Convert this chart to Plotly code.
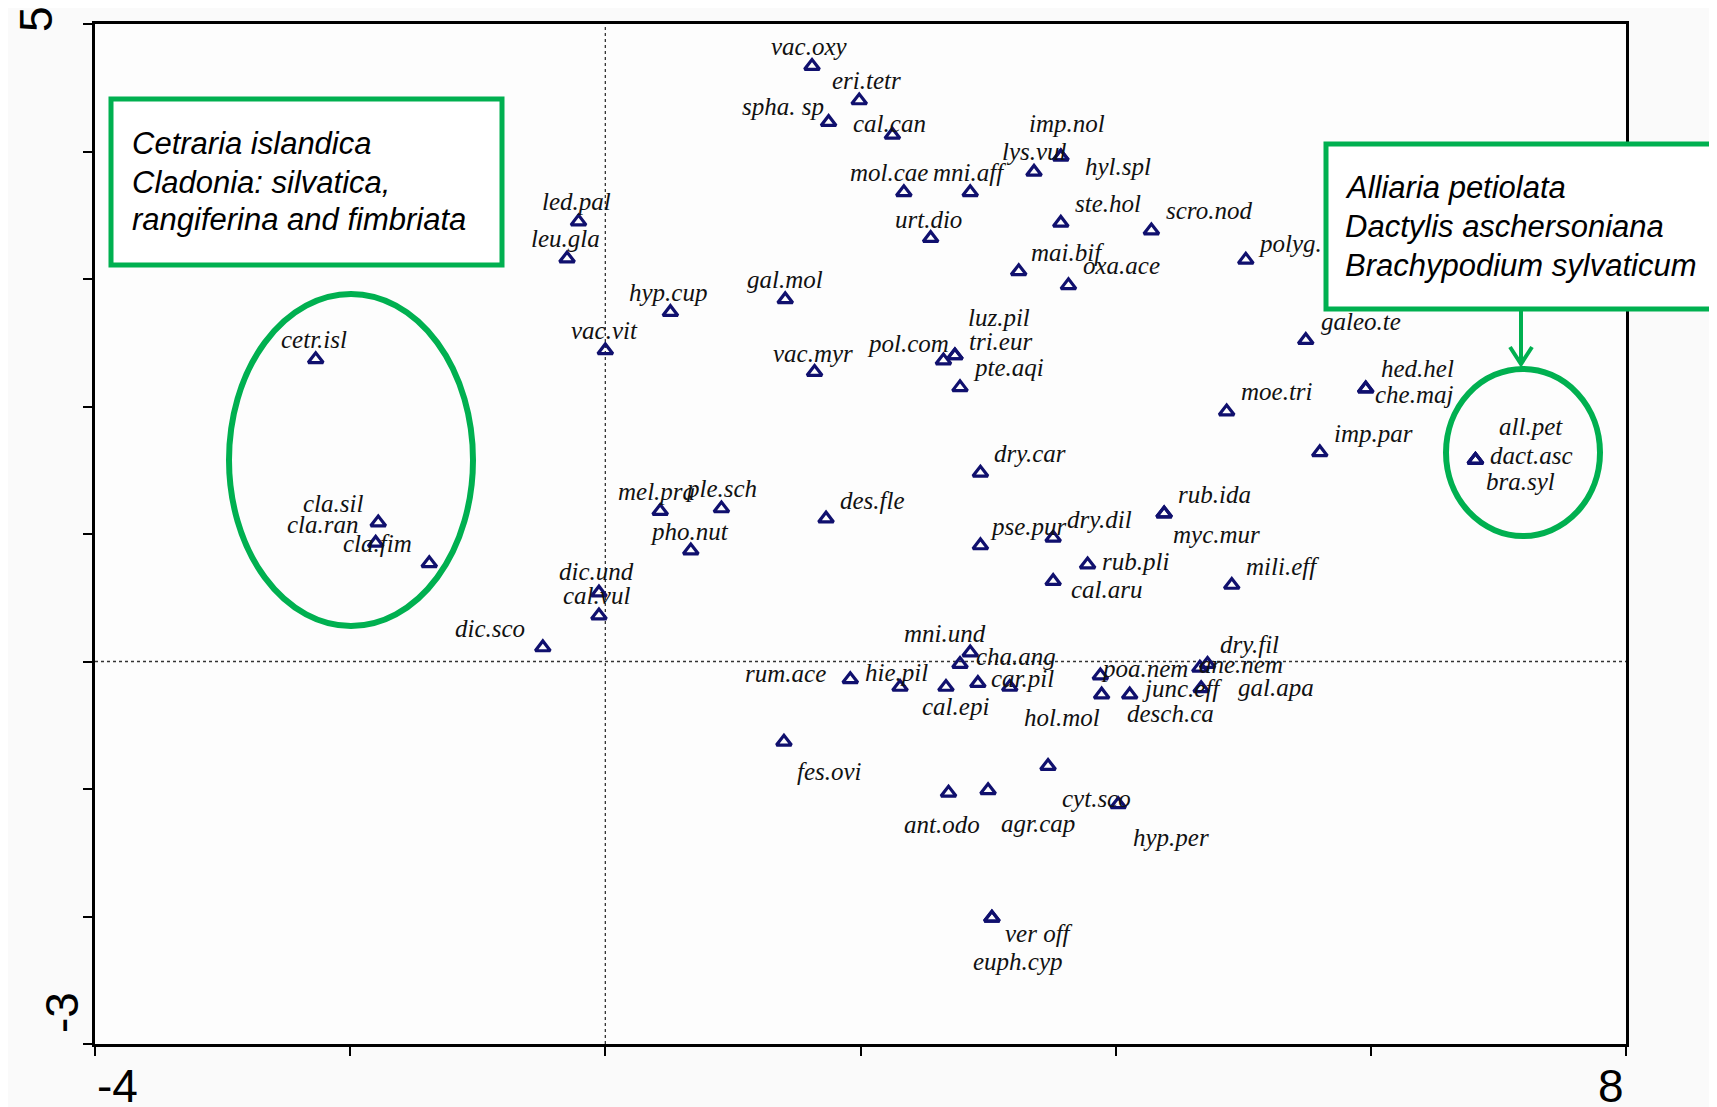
import plotly.graph_objects as go

# ---------------- data (species scores) ----------------
species = [
    "vac.oxy", "eri.tetr", "spha. sp", "cal.can", "imp.nol", "lys.vul", "hyl.spl",
    "mol.cae", "mni.aff", "ste.hol", "scro.nod", "urt.dio", "polyg.", "mai.bif",
    "oxa.ace", "led.pal", "leu.gla", "hyp.cup", "gal.mol", "vac.vit", "cetr.isl",
    "vac.myr", "pol.com", "tri.eur", "luz.pil", "pte.aqi", "galeo.te", "hed.hel",
    "che.maj", "moe.tri", "imp.par", "all.pet", "dact.asc", "bra.syl", "dry.car",
    "mel.pra", "ple.sch", "des.fle", "pho.nut", "rub.ida", "myc.mur", "pse.pur",
    "dry.dil", "rub.pli", "cal.aru", "mili.eff", "cla.sil", "cla.ran", "cla.fim",
    "dic.und", "cal.vul", "dic.sco", "mni.und", "cha.ang", "rum.ace", "hie.pil",
    "cal.epi", "car.pil", "hol.mol", "poa.nem", "desch.ca", "junc.eff", "ane.nem",
    "dry.fil", "gal.apa", "fes.ovi", "ant.odo", "agr.cap", "cyt.sco", "hyp.per",
    "ver off", "euph.cyp",
]
axis1 = [
    1.62, 1.99, 1.75, 2.25, 3.57, 3.36, 3.57,
    2.34, 2.86, 3.57, 4.28, 2.55, 5.02, 3.24,
    3.63, -0.21, -0.30, 0.51, 1.41, 0.00, -2.27,
    1.64, 2.65, 2.74, 2.74, 2.78, 5.49, 5.96,
    5.96, 4.87, 5.60, 6.82, 6.82, 6.82, 2.94,
    0.43, 0.91, 1.73, 0.67, 4.38, 4.38, 2.94,
    3.51, 3.78, 3.51, 4.91, -1.78, -1.80, -1.38,
    -0.05, -0.05, -0.49, 2.86, 2.78, 1.92, 2.31,
    2.67, 2.92, 3.17, 3.88, 3.89, 4.11, 4.66,
    4.72, 4.67, 1.40, 2.69, 3.00, 3.47, 4.02,
    3.03, 3.03,
]
axis2 = [
    4.67, 4.40, 4.23, 4.13, 3.96, 3.84, 3.96,
    3.68, 3.68, 3.44, 3.38, 3.32, 3.15, 3.06,
    2.95, 3.45, 3.16, 2.74, 2.84, 2.44, 2.37,
    2.27, 2.36, 2.40, 2.40, 2.15, 2.52, 2.14,
    2.14, 1.96, 1.64, 1.58, 1.58, 1.58, 1.48,
    1.18, 1.20, 1.12, 0.87, 1.16, 1.16, 0.91,
    0.97, 0.76, 0.63, 0.60, 1.09, 0.93, 0.77,
    0.54, 0.36, 0.11, 0.07, -0.02, -0.14, -0.20,
    -0.20, -0.17, -0.20, -0.11, -0.26, -0.26, -0.05,
    -0.02, -0.21, -0.63, -1.03, -1.01, -0.82, -1.12,
    -2.01, -2.01,
]

x_ticks = [-4, -2, 0, 2, 4, 6, 8]
y_ticks = [-3, -2, -1, 0, 1, 2, 3, 4, 5]
x_tick_text = {-4: "-4", 8: "8"}
y_tick_text = {5: "5", -3: "-3"}

left_box_lines = ["Cetraria islandica", "Cladonia: silvatica,", "rangiferina and fimbriata"]
right_box_lines = ["Alliaria petiolata", "Dactylis aschersoniana", "Brachypodium sylvaticum"]

# ---------------- label placement (pixel offsets from each point) ----------------
S = 1717 / 1568
label_dx = [
    -2, 7, -42, -3, 6, 0, 52,
    -14, -1, 43, 53, -2, 40, 45,
    48, -2, -1, -2, 0, -1, -2,
    -1, -32, 42, 40, 44, 50, 47,
    44, 46, 49, 51, 51, 41, 45,
    -3, 0, 42, -1, 46, 48, 44,
    42, 44, 49, 46, -41, -48, -47,
    -2, -2, -48, -23, 51, -59, -3,
    9, 41, 48, 40, 63, 48, 38,
    38, 68, 42, -6, 46, 44, 48,
    43, 24,
]
label_dy = [
    -18, -18, -14, -10, -30, -19, 9,
    -18, -18, -18, -18, -17, -15, -17,
    -18, -18, -18, -18, -18, -18, -18,
    -17, -16, -13, -35, -18, -17, -18,
    5, -18, -17, -31, -4, 20, -18,
    -18, -18, -17, -17, -17, 19, -17,
    -17, -3, 8, -17, -17, -17, -18,
    -19, -18, -17, -17, -7, -5, -13,
    18, -4, 28, -6, 17, -6, -3,
    -18, -1, 27, 29, 30, 30, 30,
    14, 40,
]

# ---------------- layout geometry ----------------
W_FIG, H_FIG = 1717, 1107
BODY = 8  # default page margin around the plot div
ML, MT = 87, 16
PW, PH = 1531, 1020
MR = W_FIG - ML - PW
MB = H_FIG - MT - PH


def px(x):
    """page pixel x -> paper fraction"""
    return (x - BODY - ML) / PW


def py(y):
    """page pixel y -> paper fraction"""
    return 1 - (y - BODY - MT) / PH


GREEN = "#00b050"
NAVY = "#10106e"

fig = go.Figure()
fig.add_trace(go.Scatter(
    x=axis1, y=axis2, mode="markers",
    marker=dict(symbol="triangle-up-open", size=13, color=NAVY,
                line=dict(width=3.2, color=NAVY)),
    hoverinfo="skip", showlegend=False, cliponaxis=False,
))

annotations = []
for name, xv, yv, dx, dy in zip(species, axis1, axis2, label_dx, label_dy):
    annotations.append(dict(
        x=xv, y=yv, xref="x", yref="y", text=name, showarrow=False,
        xanchor="center", yanchor="middle",
        xshift=dx * S, yshift=-dy * S,
        font=dict(family="Liberation Serif", size=25, color="#111111", style="italic"),
    ))

# tick numbers
tick_font = dict(family="Liberation Sans", size=46, color="#000000")
for v, t in x_tick_text.items():
    annotations.append(dict(
        x=v, xref="x", y=py(1086), yref="paper", text=t, showarrow=False,
        xanchor="left" if v == x_ticks[0] else "right", yanchor="middle",
        font=tick_font,
    ))
y_tick_pos = {5: (36, 19), -3: (62, 1013)}
for v, t in y_tick_text.items():
    cx, cy = y_tick_pos[v]
    annotations.append(dict(
        x=px(cx), xref="paper", y=py(cy), yref="paper", text=t, showarrow=False,
        xanchor="center", yanchor="middle", textangle=-90, font=tick_font,
    ))

box_font = dict(family="Liberation Sans", size=31, color="#000000", style="italic")
for line, cy in zip(left_box_lines, [143.5, 182, 220]):
    annotations.append(dict(
        x=px(130), xref="paper", y=py(cy), yref="paper", text=line, showarrow=False,
        xanchor="left", yanchor="middle", font=box_font,
    ))
for line, cy in zip(right_box_lines, [187, 227, 265]):
    annotations.append(dict(
        x=px(1343), xref="paper", y=py(cy), yref="paper", text=line, showarrow=False,
        xanchor="left", yanchor="middle", font=box_font,
    ))

shapes = [
    # dotted zero lines
    dict(type="line", xref="x", yref="paper", x0=0, x1=0, y0=0, y1=1,
         line=dict(color="#333333", width=1.3, dash="dot"), layer="below"),
    dict(type="line", xref="paper", yref="y", x0=0, x1=1, y0=0, y1=0,
         line=dict(color="#333333", width=1.3, dash="dot"), layer="below"),
    # left box
    dict(type="rect", xref="paper", yref="paper", x0=px(111), x1=px(502), y0=py(99), y1=py(265),
         line=dict(color=GREEN, width=5), fillcolor="#ffffff", layer="above"),
    # right box
    dict(type="rect", xref="paper", yref="paper", x0=px(1326), x1=px(1713), y0=py(144), y1=py(309),
         line=dict(color=GREEN, width=5), fillcolor="#ffffff", layer="above"),
    # ellipses
    dict(type="circle", xref="paper", yref="paper", x0=px(229), x1=px(473), y0=py(294), y1=py(626),
         line=dict(color=GREEN, width=6), layer="above"),
    dict(type="circle", xref="paper", yref="paper", x0=px(1446), x1=px(1600), y0=py(369), y1=py(536),
         line=dict(color=GREEN, width=6), layer="above"),
    # arrow
    dict(type="line", xref="paper", yref="paper", x0=px(1521), x1=px(1521), y0=py(311), y1=py(362),
         line=dict(color=GREEN, width=4), layer="above"),
    dict(type="path", xref="paper", yref="paper",
         path=f"M {px(1510)} {py(347)} L {px(1521)} {py(364)} L {px(1532)} {py(347)}",
         line=dict(color=GREEN, width=4), layer="above"),
]

axis_common = dict(
    showgrid=False, zeroline=False, showline=True, mirror=True,
    linecolor="#000000", linewidth=3, ticks="outside", ticklen=9,
    tickwidth=1.5, tickcolor="#000000", showticklabels=False,
)
fig.update_layout(
    width=W_FIG, height=H_FIG,
    margin=dict(l=ML, r=MR, t=MT, b=MB),
    paper_bgcolor="#fafafa", plot_bgcolor="#fdfdfd",
    xaxis=dict(range=[-4, 8], tickvals=x_ticks, **axis_common),
    yaxis=dict(range=[-3, 5], tickvals=y_ticks, **axis_common),
    annotations=annotations, shapes=shapes,
    showlegend=False,
)

fig.write_html("out.html")
